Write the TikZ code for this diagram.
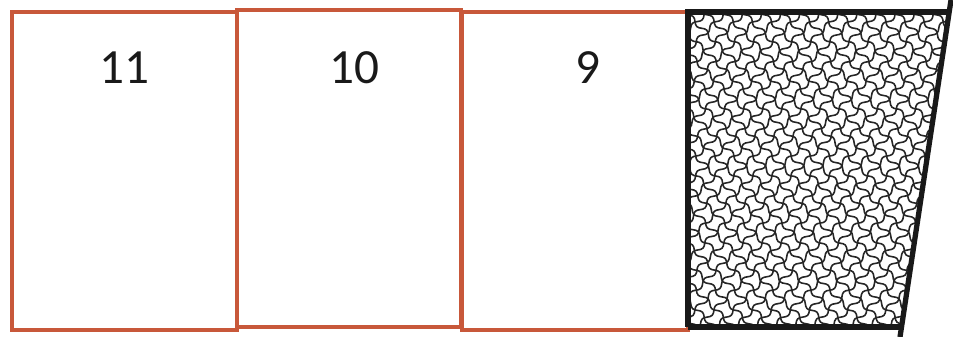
\documentclass[tikz,border=0pt]{standalone}
\usepackage{fontspec}
\setmainfont{Carlito}
\usetikzlibrary{decorations.pathmorphing}
\definecolor{BOX-RED}{RGB}{200, 88, 58}

\tikzset{
  cellbox/.style={draw=BOX-RED, line width=2.3pt, fill=white},
  cellnum/.style={font=\fontsize{28}{30}\selectfont, text=black!90},
  mesh/.style={line width=0.9pt, black!85, decorate,
    decoration={snake, segment length=0.38cm, amplitude=0.045cm}}
}

\begin{document}
\begin{tikzpicture}[x=0.02cm, y=-0.02cm]
  \useasboundingbox (0,0) rectangle (953,337);

  % Cells (left to right)
  \draw[cellbox] (12,12) rectangle (237,330);
  \node[cellnum] (n11) at (124,68) {11};
  \draw[cellbox] (237,10) rectangle (461,327);
  \node[cellnum] (n10) at (354,68) {10};
  \draw[cellbox] (462,12) rectangle (688,330);
  \node[cellnum] (n9) at (588,68) {9};

  % Hatched end section
  \coordinate (q1) at (688,12);
  \coordinate (q2) at (947,12);
  \coordinate (q3) at (903,327);
  \coordinate (q4) at (688,327);
  \begin{scope}
    \clip (q1) -- (q2) -- (q3) -- (q4) -- cycle;
    \fill[white] (q1) -- (q2) -- (q3) -- (q4) -- cycle;
    \foreach \k in {0,13.5,...,520}
      \draw[mesh] (688-80+\k*1.414,-80) -- ++(-420,420);
    \foreach \k in {0,13.5,...,520}
      \draw[mesh] (688-400+\k*1.414,-80) -- ++(420,420);
  \end{scope}
  \draw[line width=3pt, black!90] (q4) -- (q1) -- (q2);
  \draw[line width=3pt, black!90] (q4) -- (q3);
  \draw[line width=3pt, black!90] (951,0) -- (900,337);
\end{tikzpicture}
\end{document}
